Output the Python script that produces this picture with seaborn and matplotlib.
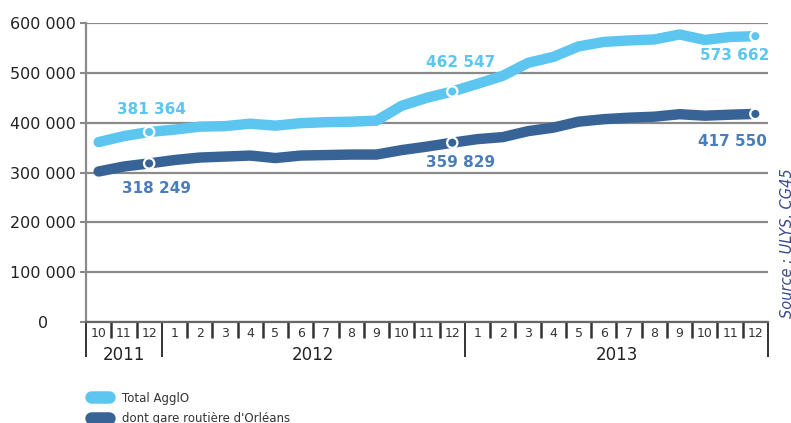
import pandas as pd
import matplotlib.pyplot as plt
import seaborn as sns
from matplotlib.lines import Line2D

# mois de 10/2011 a 12/2013
mois = [10, 11, 12] + list(range(1, 13)) + list(range(1, 13))
annees = ["2011", "2012", "2013"]
mois_par_annee = [3, 12, 12]

total_agglo = [361000, 373000, 381364, 386000, 392000, 393000, 398000, 394000,
               399000, 401000, 402000, 404000, 434000, 450000, 462547, 478000,
               494000, 520000, 532000, 553000, 562000, 565000, 567000, 577000,
               566000, 572000, 573662]
gare_routiere = [302000, 312000, 318249, 325000, 330000, 332000, 334000, 329000,
                 334000, 335000, 336000, 336000, 345000, 352000, 359829, 367000,
                 371000, 383000, 390000, 402000, 407000, 410000, 412000, 417000,
                 414000, 416000, 417550]

series = ["Total AgglO", "dont gare routière d'Orléans"]
couleurs = ["#5CC6F1", "#386396"]
couleurs_labels = ["#5CC6F1", "#4A7DB9"]
points_labels = [2, 14, 26]

idx = list(range(len(mois)))
df = pd.DataFrame({
    "idx": idx * 2,
    "valeur": total_agglo + gare_routiere,
    "serie": [series[0]] * len(idx) + [series[1]] * len(idx),
})

sns.set_style("white")
plt.rcParams["font.family"] = ["DejaVu Sans"]

fig = plt.figure(figsize=(7.91, 4.23), dpi=100)
ax = fig.add_axes([86 / 791, 1 - 322 / 423, (768 - 86) / 791, 299 / 423])

sns.lineplot(data=df, x="idx", y="valeur", hue="serie", palette=couleurs,
             linewidth=7.5, legend=False, ax=ax)
for line in ax.lines:
    line.set_solid_capstyle("round")
    line.set_solid_joinstyle("round")

pts = df[df["idx"].isin(points_labels)]
sns.scatterplot(data=pts, x="idx", y="valeur", hue="serie", palette=couleurs,
                s=55, edgecolor="white", linewidth=1.6, legend=False, ax=ax, zorder=5)

# etiquettes de valeurs
offsets = {
    (0, 2): (2, 16, "center"), (1, 2): (5, -18, "center"),
    (0, 14): (6, 21, "center"), (1, 14): (6, -14.5, "center"),
    (0, 26): (10, -14, "right"), (1, 26): (8, -20, "right"),
}
for s, vals in enumerate([total_agglo, gare_routiere]):
    for i in points_labels:
        dx, dy, ha = offsets[(s, i)]
        txt = f"{vals[i]:,}".replace(",", " ")
        ax.annotate(txt, (i, vals[i]), xytext=(dx, dy), textcoords="offset points",
                    ha=ha, va="center", fontsize=11, fontweight="bold",
                    color=couleurs_labels[s])

ax.set_xlim(-0.5, len(mois) - 0.5)
ax.set_ylim(0, 600000)
ax.set_yticks(range(0, 600001, 100000))
ax.set_yticklabels([f"{v:,}".replace(",", " ") if v else "0"
                    for v in range(0, 600001, 100000)])
ax.tick_params(axis="y", left=True, length=4, width=1.5, color="#8a8a8a", pad=27,
               labelsize=11.5, labelcolor="#222222")
for lab in ax.get_yticklabels():
    lab.set_horizontalalignment("center")
ax.grid(axis="y", color="#8a8a8a", linewidth=1.6)
ax.grid(axis="x", visible=False)
ax.set_axisbelow(True)
for sp in ["top", "right"]:
    ax.spines[sp].set_visible(False)
ax.spines["left"].set_color("#8a8a8a")
ax.spines["left"].set_linewidth(1.6)
ax.spines["bottom"].set_color("#666666")
ax.spines["bottom"].set_linewidth(1.6)

# separateurs des mois et des annees
bornes_annees = [-0.5]
for n in mois_par_annee:
    bornes_annees.append(bornes_annees[-1] + n)
bornes_mois = [i + 0.5 for i in range(len(mois) - 1) if i + 0.5 not in bornes_annees]
ax.set_xticks(bornes_annees)
ax.set_xticks(bornes_mois, minor=True)
ax.tick_params(axis="x", which="major", bottom=True, length=25, width=1.4,
               color="#333333", labelbottom=False, direction="out")
ax.tick_params(axis="x", which="minor", bottom=True, length=11.5, width=1.8,
               color="#333333", labelbottom=False, direction="out")
ax.set_xlabel("")
ax.set_ylabel("")

trans = ax.get_xaxis_transform()
for i, m in enumerate(mois):
    ax.text(i, -0.037, str(m), transform=trans, ha="center", va="center",
            fontsize=9, color="#333333")
for k, a in enumerate(annees):
    centre = (bornes_annees[k] + bornes_annees[k + 1]) / 2
    ax.text(centre, -0.11, a, transform=trans, ha="center", va="center",
            fontsize=12, color="#222222")

# legende
handles = [Line2D([], [], color=c, linewidth=9, solid_capstyle="round") for c in couleurs]
fig.legend(handles, series, loc="upper left", bbox_to_anchor=(0.102, 1 - 381 / 423),
           frameon=False, handlelength=1.5, handletextpad=1.1, labelspacing=0.6,
           fontsize=8.5, labelcolor="#333333")

fig.text(0.996, 1 - 243 / 423, "Source : ULYS, CG45", rotation=90, ha="center",
         va="center", fontsize=10.5, style="italic", color="#3b4a8f")

fig.savefig("out.png", dpi=100)
